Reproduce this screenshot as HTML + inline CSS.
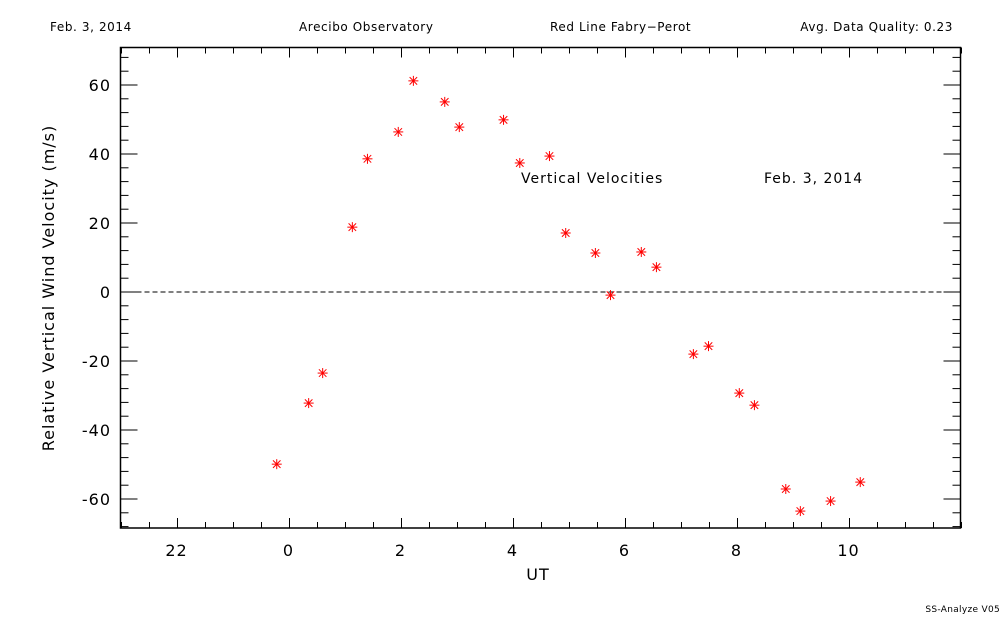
<!DOCTYPE html>
<html><head><meta charset="utf-8"><style>
body{margin:0;background:#fff;}
svg text{font-family:"DejaVu Sans","Liberation Sans",sans-serif;fill:#000;}
</style></head><body>
<svg id="chart" width="1000" height="625" xmlns="http://www.w3.org/2000/svg">
<text x="50" y="31" font-size="12" letter-spacing="0.6">Feb. 3, 2014</text>
<text x="299" y="31" font-size="12" letter-spacing="0.6">Arecibo Observatory</text>
<text x="550" y="31" font-size="12" letter-spacing="0.6">Red Line Fabry−Perot</text>
<text x="953" y="31" font-size="12" letter-spacing="0.6" text-anchor="end">Avg. Data Quality: 0.23</text>
<text x="521" y="183" font-size="14" letter-spacing="1">Vertical Velocities</text>
<text x="764" y="183" font-size="14" letter-spacing="1">Feb. 3, 2014</text>
<text x="538" y="580" font-size="16" letter-spacing="1" text-anchor="middle">UT</text>
<text transform="translate(54,288) rotate(-90)" font-size="16" letter-spacing="1" text-anchor="middle">Relative Vertical Wind Velocity (m/s)</text>
<text x="1000" y="612" font-size="9" letter-spacing="0.3" text-anchor="end">SS-Analyze V05</text>
<g id="axes"></g>
<g id="marks"></g>
</svg>
<script>
const utHours=[-0.21,0.36,0.61,1.14,1.41,1.96,2.23,2.79,3.05,3.84,4.13,4.66,4.95,5.48,5.75,6.30,6.57,7.23,7.50,8.05,8.32,8.88,9.14,9.68,10.21];
const velocities=[-49.9,-32.2,-23.5,18.8,38.6,46.4,61.2,55.1,47.8,49.9,37.4,39.4,17.1,11.3,-0.9,11.6,7.2,-18.0,-15.7,-29.3,-32.8,-57.1,-63.5,-60.6,-55.1];
const xTickVals=[-2,0,2,4,6,8,10];
const xTickLabels=["22","0","2","4","6","8","10"];
const yTickVals=[-60,-40,-20,0,20,40,60];
const ns="http://www.w3.org/2000/svg";
const L=120.5,R=960.5,T=47.5,B=528;
const xMin=-3,xMax=12;
function xs(v){return L+(v-xMin)/(xMax-xMin)*(R-L);}
function ys(v){return 292-v*3.45;}
function mk(tag,attrs,parent){const e=document.createElementNS(ns,tag);for(const k in attrs)e.setAttribute(k,attrs[k]);parent.appendChild(e);return e;}
const ax=document.getElementById('axes'),mg=document.getElementById('marks');
const frame=mk('rect',{x:L,y:T,width:R-L,height:B-T,fill:'none',stroke:'#000','stroke-width':1.5},ax);


for(let h=xMin;h<=xMax;h+=0.5){
  const major=xTickVals.includes(h);const len=major?10:6;const x=Math.round(xs(h))+0.5;
  const t1=mk('line',{x1:x,x2:x,y1:B,y2:B-len,stroke:'#000'},ax);
  
  
  const t2=mk('line',{x1:x,x2:x,y1:T,y2:T+len,stroke:'#000'},ax);
  
  
}
xTickVals.forEach((v,i)=>{
  const t=mk('text',{x:xs(v),y:556,'font-size':16,'letter-spacing':1,'text-anchor':'middle'},ax);t.textContent=xTickLabels[i];
  
  
});
for(let v=-68;v<=70;v+=4){
  const major=yTickVals.includes(v);const len=major?17:8;const y=ys(v);
  if(y<T||y>B)continue;
  const t1=mk('line',{x1:L,x2:L+len,y1:y,y2:y,stroke:'#000'},ax);
  
  
  const t2=mk('line',{x1:R,x2:R-len,y1:y,y2:y,stroke:'#000'},ax);
  
  
}
yTickVals.forEach(v=>{
  const t=mk('text',{x:111,y:ys(v)+6,'font-size':16,'letter-spacing':1,'text-anchor':'end'},ax);t.textContent=String(v);
  
  
});
const zl=mk('line',{x1:L,x2:R,y1:ys(0),y2:ys(0),stroke:'#000','stroke-dasharray':'5,3'},ax);


utHours.forEach((h,i)=>{
  const cx=xs(h),cy=ys(velocities[i]),r=5;
  const g=mk('g',{stroke:'#f00','stroke-width':1},mg);
  
  
  mk('line',{x1:cx-r,x2:cx+r,y1:cy,y2:cy},g);
  mk('line',{x1:cx,x2:cx,y1:cy-r,y2:cy+r},g);
  mk('line',{x1:cx-r*0.75,x2:cx+r*0.75,y1:cy-r*0.75,y2:cy+r*0.75},g);
  mk('line',{x1:cx-r*0.75,x2:cx+r*0.75,y1:cy+r*0.75,y2:cy-r*0.75},g);
});
</script>
</body></html>
